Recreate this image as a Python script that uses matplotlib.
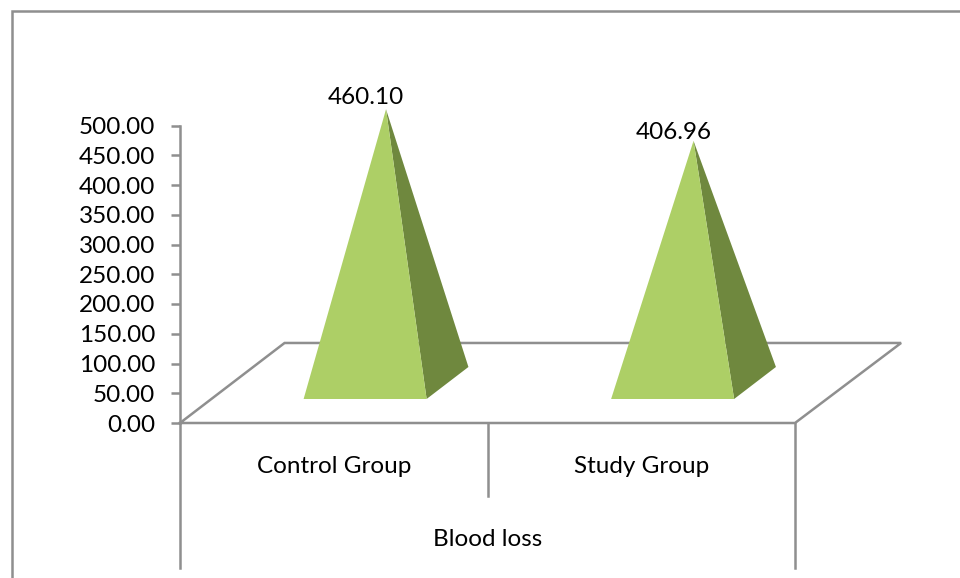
import matplotlib
matplotlib.use('Agg')
import matplotlib.pyplot as plt
from matplotlib.lines import Line2D
from matplotlib.patches import Polygon

groups = ['Control Group', 'Study Group']
blood_loss = [460.10, 406.96]
value_labels = ['460.10', '406.96']
axis_title = 'Blood loss'
y_ticks = [0, 50, 100, 150, 200, 250, 300, 350, 400, 450, 500]

W, H = 960, 578
GREY = '#8f8f8f'
FRONT = '#adcf66'
SIDE = '#6f883e'
FS = 17.5

# 3d floor shift, x in category units and y in value units
depth_x = 0.34
depth_y = 134.5
half_w = 0.2

plt.rcParams['font.family'] = ['Lato', 'DejaVu Sans']

fig = plt.figure(figsize=(W / 100, H / 100), dpi=100, facecolor='white')
ax = fig.add_axes([180 / W, 1 - 423 / H, 615 / W, 297.5 / H])
ax.set_xlim(0, 2)
ax.set_ylim(0, 500)
ax.patch.set_visible(False)

for s in ['top', 'right', 'bottom']:
    ax.spines[s].set_visible(False)
ax.spines['left'].set_color(GREY)
ax.spines['left'].set_linewidth(1.8)

ax.set_yticks(y_ticks)
ax.set_yticklabels(['%.2f' % v for v in y_ticks], fontsize=FS, color='black')
ax.tick_params(axis='y', length=6.5, width=1.8, color=GREY, pad=11.5)
ax.set_xticks([])

# floor of the 3d plot, back edge runs a little further than the front
floor_x = [0, 2, 2 + depth_x + 0.005, depth_x, 0]
floor_y = [0, 0, depth_y, depth_y, 0]
ax.plot(floor_x, floor_y, color=GREY, lw=1.8, clip_on=False, solid_joinstyle='miter', zorder=2)

# pyramids
for i, v in enumerate(blood_loss):
    c = i + 0.5
    front_y = depth_y * 0.3
    back_y = depth_y * 0.7
    fl = (c + depth_x * 0.3 - half_w, front_y)
    fr = (c + depth_x * 0.3 + half_w, front_y)
    br = (c + depth_x * 0.7 + half_w, back_y)
    apex = (c + depth_x * 0.5, depth_y * 0.5 + v)
    ax.add_patch(Polygon([apex, fr, br], closed=True, fc=SIDE, ec='none', clip_on=False, zorder=3))
    ax.add_patch(Polygon([apex, fl, fr], closed=True, fc=FRONT, ec='none', clip_on=False, zorder=4))
    dy = 12 if i == 0 else 8
    ax.annotate(value_labels[i], xy=apex, xytext=(-20 * 0.72, dy * 0.72), textcoords='offset points',
                ha='center', va='center', fontsize=FS, color='black', annotation_clip=False, zorder=5)

# multi level category axis below the plot
trans = ax.get_xaxis_transform()
for x, low in [(0, -0.488), (1, -0.244), (2, -0.488)]:
    ax.plot([x, x], [0, low], transform=trans, color=GREY, lw=1.8, clip_on=False)
for i, g in enumerate(groups):
    ax.text(i + 0.5, -0.145, g, transform=trans, ha='center', va='center', fontsize=FS, color='black')
ax.text(1, -0.39, axis_title, transform=trans, ha='center', va='center', fontsize=FS, color='black')

# chart frame, cut off by the image on the right and bottom
fig.add_artist(Line2D([12 / W, 12 / W, 1], [0, 1 - 10.5 / H, 1 - 10.5 / H], color=GREY, lw=1.8,
                      solid_joinstyle='miter'))

fig.savefig('out.png', dpi=100, facecolor='white')
